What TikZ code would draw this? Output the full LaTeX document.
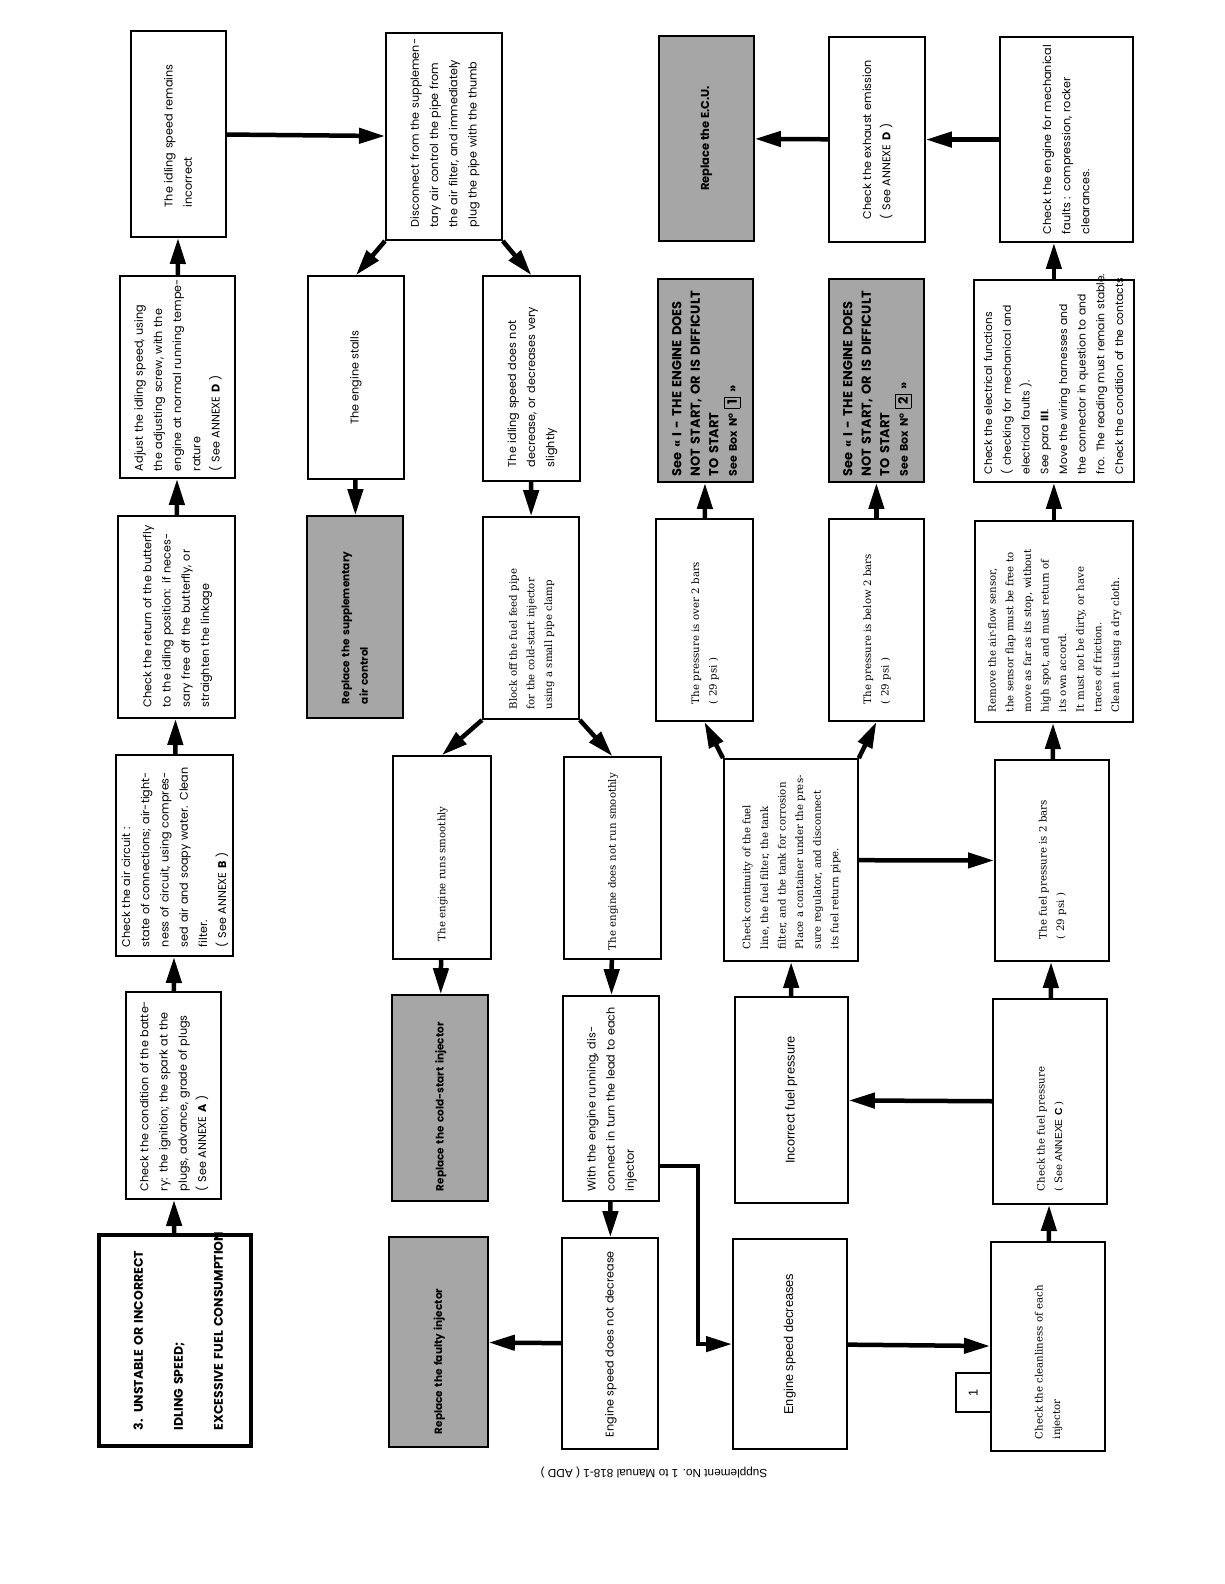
\documentclass[tikz,border=0pt]{standalone}
\usepackage{fontspec}
\setmainfont{Poppins}
\newfontfamily\slabfont{DejaVu Serif}
\newfontfamily\helvfont{Liberation Sans}
\usetikzlibrary{arrows.meta}
\newcommand{\rowsof}[1]{\begin{tabular}{@{}l@{}}#1\end{tabular}}

\begin{document}
\begin{tikzpicture}[
    x=1pt, y=-1pt, rotate=90, transform shape,
    box/.style={
        draw,
        line width=1.8pt,
        anchor=north west,
        inner sep=0pt,
        font=\fontsize{11.2}{19.2}\selectfont
    },
    sz/.style n args={2}{minimum width=#1pt, minimum height=#2pt},
    lft/.style={text width=#1pt},
    ctr/.style={align=center},
    slab/.style={font=\slabfont\fontsize{10.2}{17.6}\selectfont},
    helv/.style={font=\helvfont\fontsize{12.8}{18}\selectfont},
    grayfill/.style={fill=black!35, font=\bfseries\fontsize{10.5}{18.5}\selectfont},
    seebox/.style={grayfill, font=\bfseries\fontsize{13}{18.5}\selectfont},
    arrow/.style={line width=4.5pt, -{Triangle[length=26pt,width=15pt]}}
]
\path[use as bounding box, fill=white] (0,0) rectangle (1584,1224);

% first row
\node[box, sz={211}{152}, lft=179, line width=3.5pt, font=\bfseries\fontsize{12.5}{40}\selectfont] (title) at (136,97)
    {\rowsof{3. UNSTABLE OR INCORRECT\\IDLING SPEED;\\EXCESSIVE FUEL CONSUMPTION}};
\node[box, sz={207}{95}, lft=191] (battery) at (384,125)
    {\rowsof{Check the condition of the batte-\\ry: the ignition; the spark at the\\plugs, advance, grade of plugs\\( See ANNEXE \textbf{A} )}};
\node[box, sz={201}{117}, lft=183] (aircirc) at (627,115)
    {\rowsof{Check the air circuit :\\state of connections; air-tight-\\ness of circuit, using compres-\\sed air and soapy water. Clean\\filter.\\( See ANNEXE \textbf{B} )}};
\node[box, sz={202}{117}, lft=180] (butterfly) at (865,117)
    {\rowsof{Check the return of the butterfly\\to the idling position: if neces-\\sary free off the butterfly, or\\straighten the linkage}};
\node[box, sz={202}{115}, lft=188] (adjust) at (1105,119)
    {\rowsof{Adjust the idling speed, using\\the adjusting screw, with the\\engine at normal running tempe-\\rature\\( See ANNEXE \textbf{D} )}};
\node[box, sz={206}{95}, lft=146] (remains) at (1346,130)
    {\rowsof{The idling speed remains\\incorrect}};

% air control branch
\node[box, sz={207}{116}, lft=181] (disconnect) at (1343,385)
    {\rowsof{Disconnect from the supplemen-\\tary air control the pipe from\\the air filter, and immediately\\plug the pipe with the thumb}};
\node[box, sz={203}{96}, ctr] (stalls) at (1104,307) {The engine stalls};
\node[box, sz={205}{97}, lft=177] (notdecr) at (1102,482)
    {\rowsof{The idling speed does not\\decrease, or decreases very\\slightly}};
\node[box, grayfill, sz={202}{96}, lft=174] (replsupp) at (865,306)
    {\rowsof{Replace the supplementary\\air control}};
\node[box, slab, sz={202}{96}, lft=182] (blockoff) at (864,482)
    {\rowsof{Block off the fuel feed pipe\\for the cold-start injector\\using a small pipe clamp}};
\node[box, slab, sz={203}{98}, lft=167] (runs) at (624,392) {\rowsof{The engine runs smoothly}};
\node[box, slab, sz={202}{97}, lft=184] (notruns) at (624,563) {\rowsof{The engine does not run smoothly}};
\node[box, grayfill, sz={206}{96}, lft=186] (replcold) at (382,391) {\rowsof{Replace the cold-start injector}};
\node[box, sz={205}{96}, lft=185] (withrun) at (382,562)
    {\rowsof{With the engine running, dis-\\connect in turn the lead to each\\injector}};
\node[box, grayfill, sz={210}{99}, lft=184] (replfaulty) at (136,388) {\rowsof{Replace the faulty injector}};
\node[box, sz={211}{96}, lft=187] (spdnot) at (134,561) {\rowsof{Engine speed does not decrease}};

% fuel pressure branch
\node[box, grayfill, sz={205}{95}, ctr, font=\bfseries\fontsize{11.5}{18}\selectfont] (ecu) at (1342,658) {Replace the E.C.U.};
\node[box, seebox, sz={203}{95}, lft=191] (seeone) at (1101,657)
    {\rowsof{See « I - THE ENGINE DOES\\NOT START, OR IS DIFFICULT\\TO START\\{\fontsize{11}{18}\selectfont See Box N\textsuperscript{o}} \fbox{1} »}};
\node[box, slab, sz={202}{97}, lft=168] (over2) at (862,655)
    {\rowsof{The pressure is over 2 bars\\( 29 psi )}};
\node[box, slab, sz={202}{134}, lft=178] (continuity) at (622,723)
    {\rowsof{Check continuity of the fuel\\line, the fuel filter, the tank\\filter, and the tank for corrosion\\Place a container under the pres-\\sure regulator, and disconnect\\its fuel return pipe.}};
\node[box, helv, sz={206}{113}, ctr] (incorrect) at (380,734) {Incorrect fuel pressure};
\node[box, helv, sz={210}{114}, ctr] (spddec) at (134,732) {Engine speed decreases};
\node[box, sz={205}{96}, lft=159] (exhaust) at (1341,828)
    {\rowsof{Check the exhaust emission\\( See ANNEXE \textbf{D} )}};
\node[box, seebox, sz={203}{95}, lft=191] (seetwo) at (1101,828)
    {\rowsof{See « I - THE ENGINE DOES\\NOT START, OR IS DIFFICULT\\TO START\\{\fontsize{11}{18}\selectfont See Box N\textsuperscript{o}} \fbox{2} »}};
\node[box, slab, sz={202}{95}, lft=168] (below2) at (862,828)
    {\rowsof{The pressure is below 2 bars\\( 29 psi )}};

% last row
\node[box, sz={205}{133}, lft=189] (mechanical) at (1341,999)
    {\rowsof{Check the engine for mechanical\\faults : compression, rocker\\clearances.}};
\node[box, sz={202}{160}, lft=186, font=\fontsize{10.8}{18.7}\selectfont] (electrical) at (1101,973)
    {\rowsof{Check the electrical functions\\( checking for mechanical and\\electrical faults ).\\See para \textbf{III}.\\Move the wiring harnesses and\\the connector in question to and\\fro. The reading must remain stable.\\Check the condition of the contacts}};
\node[box, slab, sz={201}{158}, lft=181] (airflow) at (861,974)
    {\rowsof{Remove the air-flow sensor,\\the sensor flap must be free to\\move as far as its stop, without\\high spot, and must return of\\its own accord.\\It must not be dirty, or have\\traces of friction.\\Clean it using a dry cloth.}};
\node[box, slab, sz={201}{114}, lft=157] (fuel2) at (622,994)
    {\rowsof{The fuel pressure is 2 bars\\( 29 psi )}};
\node[box, slab, sz={205}{114}, lft=179] (checkfuel) at (379,992)
    {\rowsof{Check the fuel pressure\\( See {\helvfont ANNEXE \textbf{C}} )}};
\node[box, slab, sz={209}{114}, lft=185] (clean) at (132,990)
    {\rowsof{Check the cleanliness of each\\injector}};
\node[box, helv, line width=1.5pt, sz={39}{35}] (boxone) at (171,955) {1};

\node[font=\helvfont\fontsize{11.8}{14}\selectfont, rotate=90] (footer) at (111,654)
    {Supplement No. 1 to Manual 818-1 ( ADD )};

\draw[arrow] (title) -- (battery);
\draw[arrow] (battery) -- (aircirc);
\draw[arrow] (aircirc) -- (butterfly);
\draw[arrow] (butterfly) -- (adjust);
\draw[arrow] (adjust) -- (remains);
\draw[arrow] (remains) -- (disconnect);
\draw[arrow] (disconnect.north west) -- (stalls.east);
\draw[arrow] (disconnect.south west) -- (notdecr.east);
\draw[arrow] (stalls) -- (replsupp);
\draw[arrow] (notdecr) -- (blockoff);
\draw[arrow] (blockoff.north west) -- (runs.east);
\draw[arrow] (blockoff.south west) -- (notruns.east);
\draw[arrow] (runs) -- (replcold);
\draw[arrow] (notruns) -- (withrun);
\draw[arrow] (withrun) -- (spdnot);
\draw[arrow] (spdnot) -- (replfaulty);
\draw[arrow] (withrun.south west) ++(36,0) -- ++(0,38) -| (spddec.north);
\draw[arrow] (spddec) -- (clean);
\draw[arrow] (clean) -- (checkfuel);
\draw[arrow] (checkfuel) -- (fuel2);
\draw[arrow] (checkfuel) -- (incorrect);
\draw[arrow] (incorrect) -- (continuity);
\draw[arrow] (continuity) -- (fuel2);
\draw[arrow] (continuity.north east) -- (over2.west);
\draw[arrow] (continuity.south east) -- (below2.west);
\draw[arrow] (over2) -- (seeone);
\draw[arrow] (below2) -- (seetwo);
\draw[arrow] (fuel2) -- (airflow);
\draw[arrow] (airflow) -- (electrical);
\draw[arrow] (electrical.east) -- (electrical.east -| mechanical.west);
\draw[arrow] (mechanical) -- (exhaust);
\draw[arrow] (exhaust) -- (ecu);
\end{tikzpicture}
\end{document}
